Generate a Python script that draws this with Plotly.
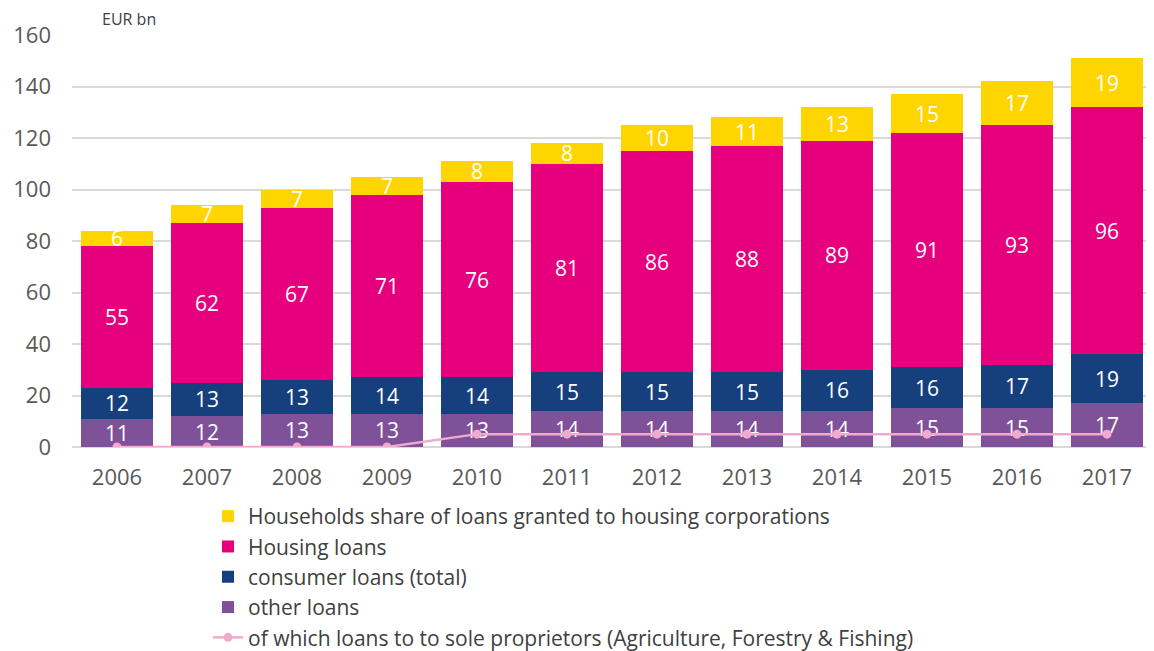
import plotly.graph_objects as go

years = ["2006", "2007", "2008", "2009", "2010", "2011", "2012", "2013", "2014", "2015", "2016", "2017"]
other_loans = [11, 12, 13, 13, 13, 14, 14, 14, 14, 15, 15, 17]
consumer_loans = [12, 13, 13, 14, 14, 15, 15, 15, 16, 16, 17, 19]
housing_loans = [55, 62, 67, 71, 76, 81, 86, 88, 89, 91, 93, 96]
housing_corp_share = [6, 7, 7, 7, 8, 8, 10, 11, 13, 15, 17, 19]
sole_proprietors = [0, 0, 0, 0, 5, 5, 5, 5, 5, 5, 5, 5]

FONT = "Open Sans"
# page body has an 8px default margin; figure sized so plot lands where intended
W, H = 1146, 643
L, T, R, B = 64, 27, 2, 204
PW, PH = W - L - R, H - T - B

fig = go.Figure()

bar_specs = [
    ("other loans", other_loans, "#7E5199", 4),
    ("consumer loans (total)", consumer_loans, "#163F7E", 3),
    ("Housing loans", housing_loans, "#E6007E", 2),
    ("Households share of loans granted to housing corporations", housing_corp_share, "#FFD500", 1),
]
for name, vals, color, rank in bar_specs:
    fig.add_trace(go.Bar(
        x=years, y=vals, name=name, marker=dict(color=color, line=dict(width=0)),
        text=vals, texttemplate="%{y}", textposition="inside", insidetextanchor="middle",
        textangle=0, constraintext="none",
        textfont=dict(color="white", size=21, family=FONT), legendrank=rank,
        legendgroup=name,
    ))

fig.add_trace(go.Scatter(
    x=years, y=sole_proprietors, mode="lines+markers",
    name="of which loans to to sole proprietors (Agriculture, Forestry & Fishing)",
    line=dict(color="#F2A9CF", width=2.5), marker=dict(size=9, color="#F2A9CF"),
    legendrank=5, legendgroup="line",
))

fig.update_layout(
    barmode="stack", bargap=0.2,
    width=W, height=H,
    margin=dict(l=L, r=R, t=T, b=B, autoexpand=False),
    paper_bgcolor="white", plot_bgcolor="white",
    font=dict(family=FONT, size=20, color="#595959"),
    legend=dict(
        orientation="v", x=(208 - 72) / PW, xanchor="left", y=-49 / PH, yanchor="top",
        font=dict(size=21, color="#404040", family=FONT),
        traceorder="normal", tracegroupgap=2.5, bgcolor="rgba(0,0,0,0)",
    ),
    annotations=[dict(
        text="EUR bn", x=(100 - 72) / PW, y=(447 - 19) / PH, xref="paper", yref="paper",
        showarrow=False, font=dict(size=16, color="#404040", family=FONT),
        xanchor="left", yanchor="middle",
    )],
)

fig.update_yaxes(
    range=[0, 160], dtick=20, showgrid=True, gridcolor="#D9D9D9", gridwidth=1.5,
    zeroline=True, zerolinecolor="#D9D9D9", zerolinewidth=1.5,
    showline=False, ticks="", ticklabelstandoff=20,
    tickfont=dict(size=22, color="#595959", family=FONT),
)
fig.update_xaxes(
    range=[-0.5, 11.5], showgrid=False, showline=False, ticks="", ticklabelstandoff=15,
    tickfont=dict(size=22, color="#595959", family=FONT),
)

fig.write_html("out.html")
